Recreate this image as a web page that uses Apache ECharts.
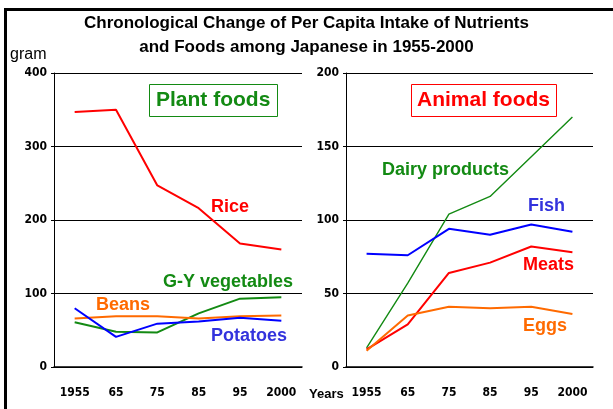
<!DOCTYPE html>
<html><head><meta charset="utf-8">
<script src="https://cdn.jsdelivr.net/npm/echarts@6/dist/echarts.min.js"></script>
<style>html,body{margin:0;padding:0;background:#fff}#c{width:613px;height:409px}</style>
</head><body><div id="c"></div>
<script>
var years = ['1955', '65', '75', '85', '95', '2000'];
var leftTicks = [0, 100, 200, 300, 400];
var rightTicks = [0, 50, 100, 150, 200];
// Plant foods (gram)
var rice = [347, 350, 247, 216, 168, 160];
var gyVegetables = [61, 48, 47, 73, 93, 95];
var beans = [66, 69, 69, 66, 69, 70];
var potatoes = [80, 41, 59, 62, 67, 63];
// Animal foods (gram)
var dairy = [13, 57, 104, 116, 143, 170];
var fish = [77, 76, 94, 90, 97, 92];
var meats = [12, 29, 64, 71, 82, 78];
var eggs = [11, 35, 41, 40, 41, 36];

var RED = '#ff0000', GREEN = '#138a13', BLUE = '#0000ff', ORANGE = '#ff6a00';
var tickFont = {fontFamily: "'Liberation Sans Narrow','DejaVu Sans Condensed',sans-serif", fontWeight: 'bold', fontSize: 12, color: '#000'};

function xAx(gi) {
  return {type: 'category', gridIndex: gi, data: years, boundaryGap: true,
    axisLine: {lineStyle: {color: '#000', width: 1.5}},
    axisTick: {inside: true, length: 5, lineStyle: {color: '#000'}},
    axisLabel: Object.assign({margin: 20}, tickFont)};
}
function yAx(gi, max, interval) {
  return {type: 'value', gridIndex: gi, min: 0, max: max, interval: interval,
    axisLine: {show: true, lineStyle: {color: '#000', width: 1}},
    axisTick: {show: true, length: 3, lineStyle: {color: '#000'}},
    splitLine: {lineStyle: {color: '#000', width: 1}},
    axisLabel: Object.assign({margin: 7}, tickFont)};
}
function ln(name, data, color, xi, w) {
  return {name: name, type: 'line', data: data, xAxisIndex: xi, yAxisIndex: xi,
    symbol: 'none', smooth: false, lineStyle: {color: color, width: w || 2}, itemStyle: {color: color}, z: 5};
}
function lbl(text, x, y, color, size) {
  return {type: 'text', left: x, top: y, z: 20,
    style: {text: text, fill: color, font: 'bold ' + (size || 18) + 'px "Liberation Sans", Arial, sans-serif'}};
}

var chart = echarts.init(document.getElementById('c'), null, {renderer: 'canvas'});
chart.setOption({
  animation: false,
  backgroundColor: '#fff',
  title: {text: 'Chronological Change of Per Capita Intake of Nutrients\nand Foods among Japanese in 1955-2000',
    left: 'center', top: 6,
    textStyle: {fontFamily: "'Liberation Sans', Arial, sans-serif", fontWeight: 'bold', fontSize: 17, lineHeight: 24, color: '#000'}},
  grid: [
    {left: 54, top: 73, width: 248, height: 294},
    {left: 346, top: 73, width: 247, height: 294}
  ],
  xAxis: [xAx(0), xAx(1)],
  yAxis: [yAx(0, leftTicks[leftTicks.length - 1], leftTicks[1] - leftTicks[0]),
          yAx(1, rightTicks[rightTicks.length - 1], rightTicks[1] - rightTicks[0])],
  series: [
    ln('Rice', rice, RED, 0),
    ln('G-Y vegetables', gyVegetables, GREEN, 0),
    ln('Beans', beans, ORANGE, 0),
    ln('Potatoes', potatoes, BLUE, 0),
    ln('Dairy products', dairy, GREEN, 1, 1.4),
    ln('Fish', fish, BLUE, 1),
    ln('Meats', meats, RED, 1),
    ln('Eggs', eggs, ORANGE, 1)
  ],
  graphic: [
    {type: 'rect', shape: {x: 4, y: 8, width: 613, height: 3}, style: {fill: '#000'}, z: 30},
    {type: 'rect', shape: {x: 4, y: 8, width: 3, height: 409}, style: {fill: '#000'}, z: 30},
    {type: 'text', left: 10, top: 47, z: 20, style: {text: 'gram', fill: '#000', font: '16px "Liberation Sans", Arial, sans-serif'}},
    {type: 'text', left: 309, top: 388, z: 20, style: {text: 'Years', fill: '#000', font: 'bold 13px "Liberation Sans", Arial, sans-serif'}},
    {type: 'rect', shape: {x: 149.5, y: 84.5, width: 128, height: 32}, style: {fill: '#fff', stroke: GREEN, lineWidth: 1}, z: 15},
    lbl('Plant foods', 156, 90, GREEN, 21),
    {type: 'rect', shape: {x: 411.5, y: 84.5, width: 145, height: 32}, style: {fill: '#fff', stroke: RED, lineWidth: 1}, z: 15},
    lbl('Animal foods', 417, 90, RED, 21),
    lbl('Rice', 211, 198, RED),
    lbl('G-Y vegetables', 163, 273, GREEN),
    lbl('Beans', 96, 296, ORANGE),
    lbl('Potatoes', 211, 327, '#3333dd'),
    lbl('Dairy products', 382, 161, GREEN),
    lbl('Fish', 528, 197, '#3333dd'),
    lbl('Meats', 523, 256, RED),
    lbl('Eggs', 523, 317, ORANGE)
  ]
});
</script></body></html>
